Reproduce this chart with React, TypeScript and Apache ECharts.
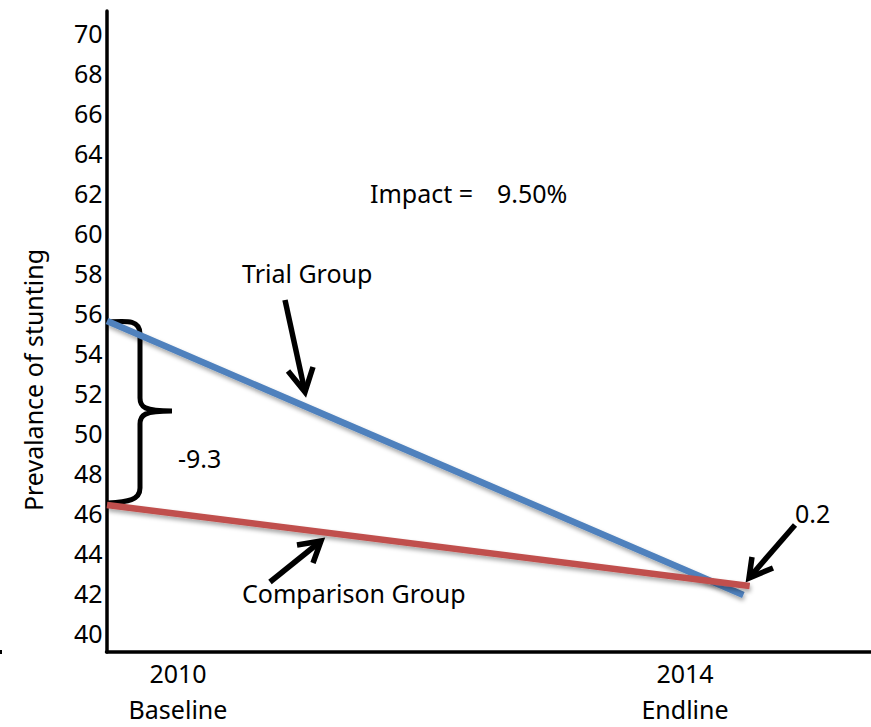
import React, { useEffect, useRef } from 'react';
import * as echarts from 'echarts';

// ---- data ----
const trialX = [2009.44, 2014.46];
const trialY = [55.6, 41.9];
const compX = [2009.44, 2014.51];
const compY = [46.4, 42.35];
const yTicks = [40, 42, 44, 46, 48, 50, 52, 54, 56, 58, 60, 62, 64, 66, 68, 70];
const xTicks = [2010, 2014];
const xYearLabels = ['2010', '2014'];
const xPhaseLabels = ['Baseline', 'Endline'];
const seriesNames = ['Trial Group', 'Comparison Group'];
const yTitle = 'Prevalance of stunting';
const baselineGap = '-9.3';
const endlineGap = '0.2';
const impactLabel = 'Impact =';
const impactValue = '9.50%';

const FONT = 'Noto Sans';
const FS = 25;

const BRACE_D =
  'M108,322 C126,321 140,319 140,334 L140,398 C140,407 144,411 172,411 M172,411 C144,411 140,415 140,424 L140,488 C140,500 128,502 108,503';

function txt(text: string, x: number, y: number, align = 'left', rotation = 0) {
  return {
    type: 'text',
    x,
    y,
    rotation,
    style: {
      text,
      fill: '#000',
      fontSize: FS,
      fontFamily: FONT,
      align,
      verticalAlign: 'middle',
      textAlign: align,
      textVerticalAlign: 'middle',
    },
  };
}

function arrow(tail: number[], tip: number[], w1: number[], w2: number[]) {
  return [
    {
      type: 'polyline',
      shape: { points: [tail, tip] },
      style: { stroke: '#000', lineWidth: 5.5, fill: 'none', lineCap: 'butt' },
    },
    {
      type: 'polyline',
      shape: { points: [w1, tip, w2] },
      style: { stroke: '#000', lineWidth: 5.5, fill: 'none', lineJoin: 'miter', lineCap: 'butt' },
    },
  ];
}

export default function App() {
  const ref = useRef<HTMLDivElement>(null);
  useEffect(() => {
    echarts.graphic.registerShape('brace', echarts.graphic.extendPath(BRACE_D, {}));
    const chart = echarts.init(ref.current!, null, { renderer: 'svg' });
    const lineShadow = {
      shadowColor: 'rgba(0,0,0,0.35)',
      shadowBlur: 4,
      shadowOffsetX: 1,
      shadowOffsetY: 3,
    };
    chart.setOption({
      animation: false,
      backgroundColor: '#fff',
      grid: {
        left: 106.5,
        right: 0,
        top: 11,
        bottom: 75,
        containLabel: false,
        outerBoundsMode: 'none',
      },
      xAxis: {
        type: 'value',
        min: 2009.436,
        max: 2015.467,
        axisLine: { show: true, lineStyle: { color: '#000', width: 3.5 } },
        axisTick: { show: false },
        splitLine: { show: false },
        axisLabel: {
          customValues: xTicks,
          formatter: (v: number) => {
            const i = xTicks.indexOf(Math.round(v));
            return i >= 0 ? '{a|' + xYearLabels[i] + '}\n{b|' + xPhaseLabels[i] + '}' : '';
          },
          color: '#000',
          fontSize: FS,
          fontFamily: FONT,
          margin: 1,
          rich: {
            a: { color: '#000', fontSize: FS, fontFamily: FONT, lineHeight: 40 },
            b: { color: '#000', fontSize: FS, fontFamily: FONT, lineHeight: 31 },
          },
        },
      },
      yAxis: {
        type: 'value',
        min: 39.05,
        max: 71.1,
        axisLine: { show: true, lineStyle: { color: '#000', width: 3.5 } },
        axisTick: { show: false },
        splitLine: { show: false },
        axisLabel: {
          customValues: yTicks,
          color: '#000',
          fontSize: FS,
          fontFamily: FONT,
          margin: 4,
        },
      },
      series: [
        {
          name: seriesNames[0],
          type: 'line',
          data: trialX.map((x, i) => [x, trialY[i]]),
          symbol: 'none',
          clip: false,
          lineStyle: { color: '#4F81BD', width: 6.5, cap: 'butt', ...lineShadow },
        },
        {
          name: seriesNames[1],
          type: 'line',
          data: compX.map((x, i) => [x, compY[i]]),
          symbol: 'none',
          clip: false,
          lineStyle: { color: '#C0504D', width: 6.5, cap: 'butt', ...lineShadow },
        },
      ],
      graphic: [
        txt(yTitle, 33, 380, 'center', Math.PI / 2),
        txt(impactLabel, 370, 193),
        txt(impactValue, 497, 193),
        txt(seriesNames[0], 242, 273),
        txt(seriesNames[1], 242, 593),
        txt(baselineGap, 178, 458),
        txt(endlineGap, 795, 513),
        ...arrow([285, 300], [305, 392], [288, 371], [313, 367]),
        ...arrow([270, 582], [321, 541], [297, 545], [313, 563]),
        ...arrow([795, 525], [749, 578], [752, 557], [773, 568]),
        {
          type: 'brace',
          x: 0,
          y: 0,
          style: { stroke: '#000', lineWidth: 5, fill: 'none' },
        },
        {
          type: 'rect',
          shape: { x: 0, y: 650, width: 2, height: 4 },
          style: { fill: '#000' },
        },
      ],
    });
    return () => chart.dispose();
  }, []);
  return (
    <div
      ref={ref}
      style={{ position: 'fixed', left: 0, top: 0, width: 871, height: 727, background: '#fff' }}
    />
  );
}
